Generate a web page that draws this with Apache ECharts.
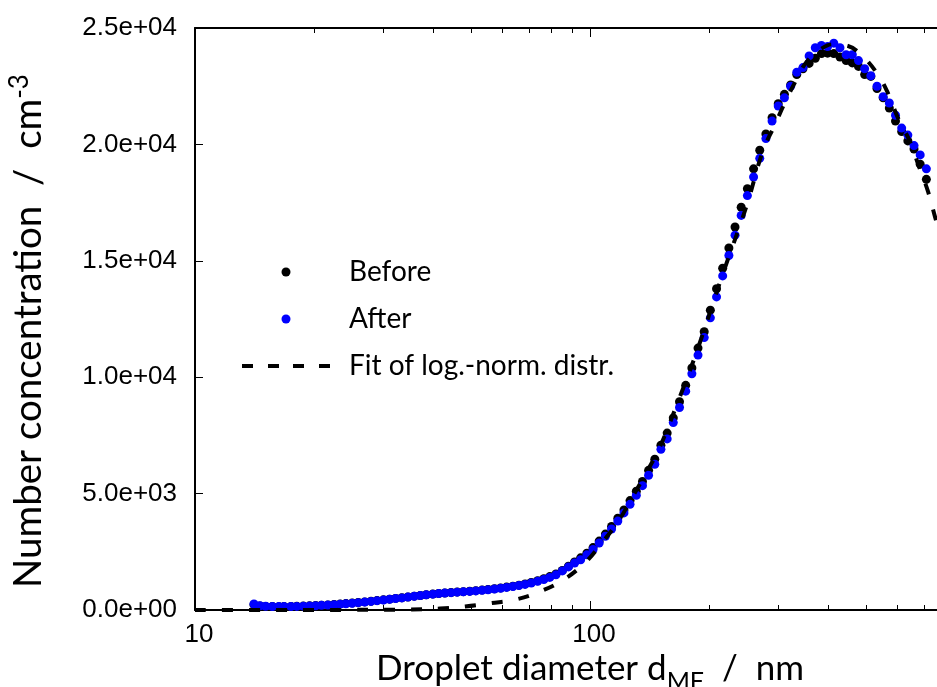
<!DOCTYPE html>
<html>
<head>
<meta charset="utf-8">
<script src="https://cdn.jsdelivr.net/npm/echarts@6/dist/echarts.min.js"></script>
<style>
html,body{margin:0;padding:0;background:#fff;}
#chart{width:937px;height:687px;}
</style>
</head>
<body>
<div id="chart"></div>
<script>
// Mobility diameter bins (nm), 64 channels per decade
const diameters = [14.1, 14.6, 15.1, 15.7, 16.3, 16.8, 17.5, 18.1, 18.8, 19.5, 20.2, 20.9, 21.7, 22.5, 23.3, 24.1, 25.0, 25.9, 26.9, 27.9, 28.9, 30.0, 31.1, 32.2, 33.4, 34.6, 35.9, 37.2, 38.5, 40.0, 41.4, 42.9, 44.5, 46.1, 47.8, 49.6, 51.4, 53.3, 55.2, 57.3, 59.4, 61.5, 63.8, 66.1, 68.5, 71.0, 73.7, 76.4, 79.1, 82.0, 85.1, 88.2, 91.4, 94.7, 98.2, 101.8, 105.5, 109.4, 113.4, 117.6, 121.9, 126.3, 131.0, 135.8, 140.7, 145.9, 151.2, 156.8, 162.5, 168.5, 174.7, 181.1, 187.7, 194.6, 201.7, 209.1, 216.7, 224.7, 232.9, 241.4, 250.3, 259.5, 269.0, 278.8, 289.0, 299.6, 310.6, 322.0, 333.8, 346.0, 358.7, 371.8, 385.4, 399.5, 414.2, 429.4, 445.1, 461.4, 478.3, 495.8, 514.0, 532.8, 552.3, 572.5, 593.5, 615.3, 637.8, 661.2, 685.4, 710.5];

// Number concentration (cm^-3) per bin
const before = [230, 170, 150, 145, 140, 145, 150, 158, 168, 178, 190, 205, 220, 236, 255, 276, 297, 320, 347, 376, 405, 436, 466, 497, 528, 560, 594, 625, 655, 684, 708, 730, 750, 770, 788, 808, 830, 855, 882, 912, 948, 985, 1025, 1068, 1120, 1182, 1255, 1340, 1435, 1550, 1700, 1880, 2060, 2240, 2440, 2680, 2960, 3260, 3590, 3940, 4300, 4700, 5100, 5520, 6000, 6480, 7080, 7600, 8250, 8950, 9650, 10400, 11250, 11950, 12880, 13800, 14680, 15550, 16450, 17300, 18100, 18950, 19750, 20450, 21150, 21750, 22150, 22550, 23000, 23250, 23480, 23700, 23900, 23920, 23900, 23750, 23600, 23500, 23350, 23000, 22920, 22400, 22000, 21560, 21000, 20550, 20150, 19800, 19150, 18500];

const after = [260, 185, 160, 150, 145, 145, 150, 155, 165, 175, 185, 200, 215, 230, 250, 270, 290, 315, 340, 370, 400, 430, 460, 490, 520, 555, 590, 620, 650, 680, 705, 725, 745, 765, 780, 800, 820, 845, 870, 900, 935, 970, 1010, 1050, 1100, 1160, 1230, 1310, 1400, 1510, 1680, 1850, 2020, 2160, 2370, 2600, 2880, 3170, 3480, 3820, 4170, 4540, 4930, 5340, 5790, 6260, 6900, 7350, 8050, 8700, 9400, 10150, 10950, 11700, 12550, 13450, 14350, 15230, 16100, 16950, 17800, 18600, 19400, 20250, 21000, 21650, 22000, 22500, 23100, 23300, 23800, 24150, 24250, 24200, 24350, 24150, 23850, 23850, 23600, 23250, 22950, 22500, 22050, 21780, 21250, 20700, 20400, 19950, 19550, 18950];

// Log-normal fit curve, sampled
const fitDiameters = [10, 15, 20, 25, 30, 35, 41.7, 48.3, 55.9, 65.3, 74.6, 85.5, 97.0, 107.1, 117.8, 127.6, 138.7, 150.4, 167.0, 186.3, 215, 249.5, 273.7, 293.9, 311.6, 333.5, 353.7, 383, 412, 445, 476, 529.5, 567.6, 602, 645.8, 680.6, 717.6, 747, 760];
const fitValues = [0, 0, 2, 5, 10, 20, 60, 150, 288, 460, 787, 1289, 2019, 2878, 3795, 4811, 5885, 7016, 8949, 11097, 14249, 17399, 19700, 20850, 21800, 22800, 23555, 24080, 24300, 24250, 23985, 23125, 22210, 21136, 20118, 19045, 17970, 16896, 16450];

const xRange = [10, 1000];
const yTicks = [0, 5000, 10000, 15000, 20000, 25000];

const pair = (xs, ys) => xs.map((x, i) => [x, ys[i]]);
const fmtExp = v => v.toExponential(1).replace(/e([+-])(\d)$/, 'e$10$2');

const titleFont = 'Lato';
const tickFont = '"Liberation Sans", Arial, sans-serif';

// Four short dashes used as the legend key of the fitted curve
const dashIcon = 'path://M0,0h11v4h-11z M26,0h11v4h-11z M51,0h11v4h-11z M77,0h11v4h-11z';

const chart = echarts.init(document.getElementById('chart'), null, {renderer: 'canvas'});

const xCommon = {
  type: 'log',
  logBase: 10,
  min: xRange[0],
  max: xRange[1],
  splitLine: {show: false},
  axisLine: {show: true, lineStyle: {color: '#000', width: 2}},
  axisTick: {show: true, inside: true, length: 9, lineStyle: {color: '#000', width: 1}},
  minorTick: {show: true, splitNumber: 9, length: 5, lineStyle: {color: '#000', width: 1}},
  minorSplitLine: {show: false}
};

chart.setOption({
  animation: false,
  backgroundColor: '#fff',
  grid: {left: 195, top: 28, width: 790, height: 582, outerBoundsMode: 'none', containLabel: false},
  legend: {
    orient: 'vertical',
    left: 242,
    top: 257,
    padding: 0,
    itemWidth: 88,
    itemHeight: 9,
    itemGap: 17,
    data: [
      {name: 'Before', icon: 'circle'},
      {name: 'After', icon: 'circle'},
      {name: 'Fit of log.-norm. distr.', icon: dashIcon}
    ],
    textStyle: {fontFamily: titleFont, fontSize: 28, color: '#000', lineHeight: 30, padding: [0, 0, 0, 14]}
  },
  xAxis: [
    Object.assign({}, xCommon, {
      position: 'bottom',
      name: 'Droplet diameter d{sub|MF}  /  nm',
      nameLocation: 'middle',
      nameGap: 41,
      nameMoveOverlap: false,
      nameTextStyle: {
        fontFamily: titleFont, fontSize: 35, color: '#000', verticalAlign: 'top',
        rich: {sub: {fontFamily: titleFont, fontSize: 25, color: '#000', verticalAlign: 'bottom', padding: [0, 0, -8, 0]}}
      },
      axisLabel: {show: true, fontFamily: tickFont, fontSize: 26, color: '#000', margin: 12, padding: [0, 0, 0, 8]}
    }),
    Object.assign({}, xCommon, {
      position: 'top',
      axisLabel: {show: false}
    })
  ],
  yAxis: {
    type: 'value',
    min: yTicks[0],
    max: yTicks[yTicks.length - 1],
    interval: yTicks[1] - yTicks[0],
    splitLine: {show: false},
    axisLine: {show: true, lineStyle: {color: '#000', width: 2}},
    axisTick: {show: true, inside: true, length: 8, lineStyle: {color: '#000', width: 1}},
    axisLabel: {fontFamily: tickFont, fontSize: 26, color: '#000', margin: 18, formatter: fmtExp},
    name: 'Number concentration  /  cm{sup|-3}',
    nameLocation: 'middle',
    nameRotate: 90,
    nameGap: 145,
    nameMoveOverlap: false,
    nameTextStyle: {
      fontFamily: titleFont, fontSize: 38.5, color: '#000', padding: [0, 24, 0, 0],
      rich: {sup: {fontFamily: titleFont, fontSize: 26, color: '#000', verticalAlign: 'top', padding: [0, 0, 17, 0]}}
    }
  },
  series: [
    {
      name: 'Before',
      type: 'scatter',
      xAxisIndex: 0,
      symbol: 'circle',
      symbolSize: 9,
      itemStyle: {color: '#000', opacity: 1},
      data: pair(diameters, before),
      z: 2
    },
    {
      name: 'After',
      type: 'scatter',
      xAxisIndex: 0,
      symbol: 'circle',
      symbolSize: 9,
      itemStyle: {color: '#0000ff', opacity: 1},
      data: pair(diameters, after),
      z: 3
    },
    {
      name: 'Fit of log.-norm. distr.',
      type: 'line',
      xAxisIndex: 0,
      showSymbol: false,
      symbol: 'none',
      smooth: 0.4,
      lineStyle: {color: '#000', width: 4, type: [11, 16], cap: 'butt'},
      itemStyle: {color: '#000'},
      data: pair(fitDiameters, fitValues),
      z: 4
    }
  ]
});
</script>
</body>
</html>
